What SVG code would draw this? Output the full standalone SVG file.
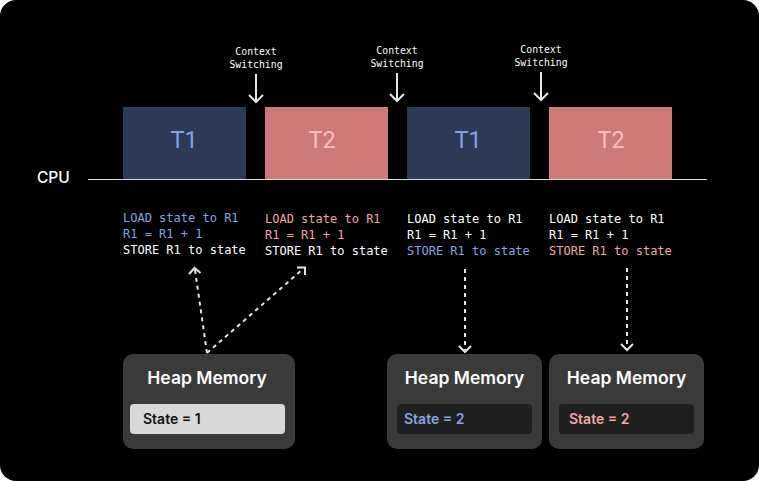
<svg xmlns="http://www.w3.org/2000/svg" width="759" height="481" viewBox="0 0 759 481">
<defs>
<style>
.mono{font-family:"DejaVu Sans Mono","Liberation Mono",monospace;}
.code{font-family:"DejaVu Sans Mono","Liberation Mono",monospace;font-size:12px;}
.sans{font-family:Inter,"Liberation Sans",sans-serif;}
.cs{font-size:9.8px;fill:#ffffff;text-anchor:middle;}
.tl{font-size:23.5px;text-anchor:middle;font-family:Roboto,"Liberation Sans",sans-serif;}
.w{fill:#ffffff;}
.b{fill:#86a3e6;}
.p{fill:#f2a6a6;}
.heap{fill:#3a3a3a;}
.ht{font-size:17.5px;font-weight:600;fill:#ffffff;text-anchor:middle;}
.st{font-size:14px;font-weight:600;}
.arr{stroke:#e6e6e6;stroke-width:2;fill:none;}
.dash{stroke:#e6e6e6;stroke-width:2;fill:none;stroke-dasharray:4 4;}
</style>
</defs>
<rect x="0" y="0" width="759" height="481" fill="#ffffff"/>
<rect x="0" y="0" width="759" height="481" rx="16" fill="#000000"/>

<g id="cpu">
<text x="37" y="183" class="sans" font-size="15.5" font-weight="500" fill="#ffffff">CPU</text>
<line x1="88" y1="179.5" x2="707" y2="179.5" stroke="#d9d9d9" stroke-width="1.2"/>
</g>

<g id="t1a">
<rect x="123" y="107" width="123" height="72" fill="#2b3a55"/>
<text x="184" y="148" class="tl b">T1</text>
</g>
<g id="t2a">
<rect x="265" y="107" width="123" height="72" fill="#cf7878"/>
<text x="322" y="148" class="tl" fill="#f7c1c1">T2</text>
</g>
<g id="t1b">
<rect x="407" y="107" width="123" height="72" fill="#2b3a55"/>
<text x="468" y="148" class="tl b">T1</text>
</g>
<g id="t2b">
<rect x="549" y="107" width="123" height="72" fill="#cf7878"/>
<text x="611" y="148" class="tl" fill="#f7c1c1">T2</text>
</g>

<g id="cs1">
<text x="256" y="55" class="mono cs">Context</text>
<text x="256" y="68" class="mono cs">Switching</text>
</g>
<g id="cs2">
<text x="397" y="54" class="mono cs">Context</text>
<text x="397" y="67" class="mono cs">Switching</text>
</g>
<g id="cs3">
<text x="541" y="53" class="mono cs">Context</text>
<text x="541" y="66" class="mono cs">Switching</text>
</g>

<g id="code1" class="code">
<text x="123" y="222" class="b">LOAD state to R1</text>
<text x="123" y="238" class="b">R1 = R1 + 1</text>
<text x="123" y="254" class="w">STORE R1 to state</text>
</g>
<g id="code2" class="code">
<text x="265" y="223" class="p">LOAD state to R1</text>
<text x="265" y="239" class="p">R1 = R1 + 1</text>
<text x="265" y="255" class="w">STORE R1 to state</text>
</g>
<g id="code3" class="code">
<text x="407" y="223" class="w">LOAD state to R1</text>
<text x="407" y="239" class="w">R1 = R1 + 1</text>
<text x="407" y="255" class="b">STORE R1 to state</text>
</g>
<g id="code4" class="code">
<text x="549" y="223" class="w">LOAD state to R1</text>
<text x="549" y="239" class="w">R1 = R1 + 1</text>
<text x="549" y="255" class="p">STORE R1 to state</text>
</g>

<g id="heap1">
<rect x="123" y="354" width="172" height="95" rx="10" class="heap"/>
<text x="207" y="384" class="sans ht">Heap Memory</text>
<rect x="130" y="404" width="155" height="30" rx="4" fill="#d9d9d9"/>
<text x="143" y="424" class="sans st" fill="#111111">State = 1</text>
</g>
<g id="heap2">
<rect x="387" y="354" width="155" height="95" rx="10" class="heap"/>
<text x="464.5" y="384" class="sans ht">Heap Memory</text>
<rect x="397" y="404" width="135" height="30" rx="4" fill="#1f1f1f"/>
<text x="404" y="424" class="sans st b">State = 2</text>
</g>
<g id="heap3">
<rect x="549" y="354" width="155" height="95" rx="10" class="heap"/>
<text x="626.5" y="384" class="sans ht">Heap Memory</text>
<rect x="559" y="404" width="135" height="30" rx="4" fill="#1f1f1f"/>
<text x="569" y="424" class="sans st p">State = 2</text>
</g>

<g id="connectors">
<line x1="256" y1="74" x2="256" y2="102" class="arr"/>
<polyline points="249,95 256,102 263,95" class="arr"/>
<line x1="397" y1="73" x2="397" y2="101" class="arr"/>
<polyline points="390,94 397,101 404,94" class="arr"/>
<line x1="541" y1="72" x2="541" y2="100" class="arr"/>
<polyline points="534,93 541,100 548,93" class="arr"/>

<line x1="207" y1="353" x2="195" y2="270" class="dash"/>
<polyline points="189,274 194.5,268 200.5,273" class="arr"/>
<line x1="207" y1="353" x2="303" y2="269" class="dash"/>
<polyline points="297,267.5 305,267.5 305,275" class="arr"/>
<line x1="465" y1="269" x2="465" y2="350" class="dash"/>
<polyline points="459,346 465,352 471,346" class="arr"/>
<line x1="627" y1="268" x2="627" y2="348" class="dash"/>
<polyline points="621,344 627,350 633,344" class="arr"/>
</g>
</svg>
